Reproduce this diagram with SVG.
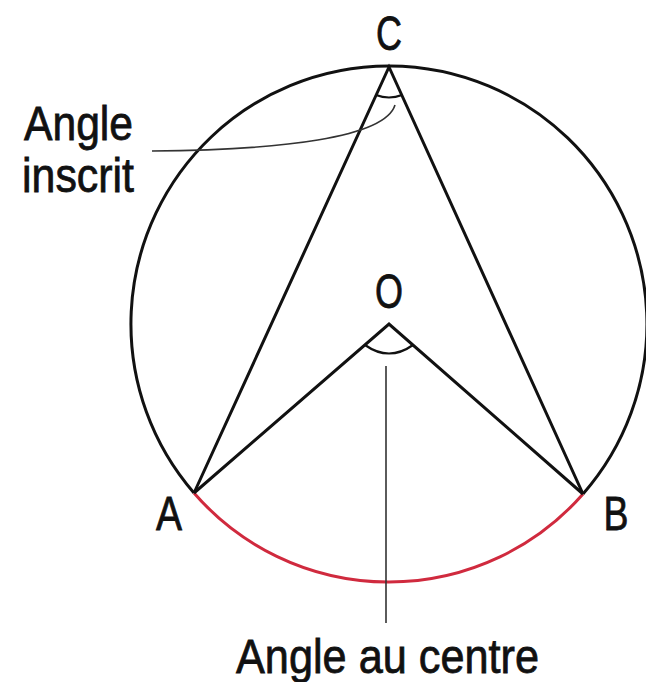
<svg xmlns="http://www.w3.org/2000/svg" width="646" height="682" viewBox="0 0 646 682">
<style>
.ln{fill:none;stroke:#111;stroke-width:3;stroke-linejoin:miter}
.ang{fill:none;stroke:#111;stroke-width:2.2}
.lead{fill:none;stroke:#333;stroke-width:1.6}
.t{font-family:"Liberation Sans Narrow","Liberation Sans",Arial,sans-serif;font-size:49px;fill:#111;stroke:#111;stroke-width:0.8}
</style>
<rect width="646" height="682" fill="#fff"/>
<g id="circle">
<path class="ln" d="M194,493 A258,258 0 1 1 583,494"/>
<path d="M194,493 A258,258 0 0 0 583,494" fill="none" stroke="#d02a3e" stroke-width="3"/>
</g>
<g id="connectors">
<path class="ln" d="M194,493 L389,67 L583,494"/>
<path class="ln" d="M194,493 L389,324 L583,494"/>
<path class="ang" d="M376,95 Q389,100 402,95"/>
<path class="ang" d="M365,345 Q389,362 413,345"/>
<path class="lead" d="M152,151 C280,150 385,138 395,105"/>
<path class="lead" d="M386,366 L386,623"/>
</g>
<g id="C"><text class="t" x="389" y="50" text-anchor="middle" textLength="26" lengthAdjust="spacingAndGlyphs">C</text></g>
<g id="O"><text class="t" x="389" y="308" text-anchor="middle" textLength="28" lengthAdjust="spacingAndGlyphs">O</text></g>
<g id="A"><text class="t" x="169" y="530" text-anchor="middle" textLength="26" lengthAdjust="spacingAndGlyphs">A</text></g>
<g id="B"><text class="t" x="616" y="530" text-anchor="middle" textLength="25" lengthAdjust="spacingAndGlyphs">B</text></g>
<g id="inscrit-label">
<text class="t" x="24" y="140" textLength="109" lengthAdjust="spacingAndGlyphs">Angle</text>
<text class="t" x="22" y="192" textLength="112" lengthAdjust="spacingAndGlyphs">inscrit</text>
</g>
<g id="centre-label"><text class="t" x="236" y="673" textLength="303" lengthAdjust="spacingAndGlyphs">Angle au centre</text></g>
</svg>
